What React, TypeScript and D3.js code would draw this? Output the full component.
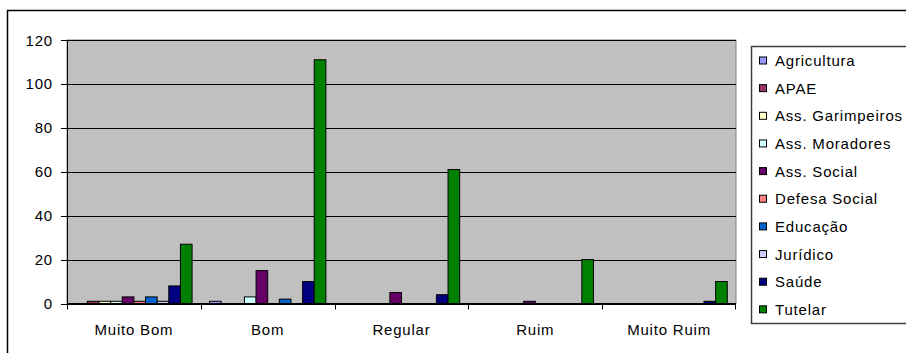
import React from "react";
import * as d3 from "d3";

const categories = ["Muito Bom", "Bom", "Regular", "Ruim", "Muito Ruim"];
const seriesNames = [
  "Agricultura",
  "APAE",
  "Ass. Garimpeiros",
  "Ass. Moradores",
  "Ass. Social",
  "Defesa Social",
  "Educação",
  "Jurídico",
  "Saúde",
  "Tutelar",
];
const agricultura = [0, 1, 0, 0, 0];
const apae = [1, 0, 0, 0, 0];
const assGarimpeiros = [1, 0, 0, 0, 0];
const assMoradores = [1, 3, 0, 0, 0];
const assSocial = [3, 15, 5, 1, 0];
const defesaSocial = [1, 0, 0, 0, 0];
const educacao = [3, 2, 0, 0, 0];
const juridico = [1, 0, 0, 0, 0];
const saude = [8, 10, 4, 0, 1];
const tutelar = [27, 111, 61, 20, 10];
const seriesValues = [
  agricultura,
  apae,
  assGarimpeiros,
  assMoradores,
  assSocial,
  defesaSocial,
  educacao,
  juridico,
  saude,
  tutelar,
];
const colors = [
  "#9999FF",
  "#993366",
  "#FFFFCC",
  "#CCFFFF",
  "#660066",
  "#FF8080",
  "#0066CC",
  "#CCCCFF",
  "#000080",
  "#008000",
];
const yTicks = [0, 20, 40, 60, 80, 100, 120];

const W = 906;
const H = 353;
const plot = { left: 67, right: 736, top: 40, bottom: 303.5 };
const font = "Arial, 'Liberation Sans', sans-serif";

export default function App() {
  const x0 = d3
    .scaleBand<string>()
    .domain(categories)
    .range([plot.left, plot.right])
    .paddingInner(0)
    .paddingOuter(0);
  const bw = x0.bandwidth();
  const x1 = d3
    .scaleBand<string>()
    .domain(seriesNames)
    .range([0, bw])
    .paddingInner(0)
    .paddingOuter(0.75);
  const y = d3.scaleLinear().domain([0, 120]).range([plot.bottom, plot.top]);

  return (
    <svg
      width={W}
      height={H}
      style={{ position: "absolute", left: 0, top: 0, display: "block" }}
      fontFamily={font}
    >
      <rect x={0} y={0} width={W} height={H} fill="#fff" />
      {/* outer chart border */}
      <rect x={7.5} y={10.5} width={W + 20} height={H + 20} fill="none" stroke="#000" strokeWidth={1.5} />

      {/* plot area */}
      <rect
        x={plot.left}
        y={plot.top}
        width={plot.right - plot.left}
        height={plot.bottom - plot.top}
        fill="#C0C0C0"
        stroke="#808080"
        strokeWidth={1}
      />
      {yTicks.map((t) => (
        <line
          key={"g" + t}
          x1={plot.left}
          x2={plot.right}
          y1={Math.round(y(t)) + 0.5}
          y2={Math.round(y(t)) + 0.5}
          stroke="#000"
          strokeWidth={1}
          shapeRendering="crispEdges"
        />
      ))}

      {/* bars */}
      {categories.map((c, ci) => (
        <g key={c} transform={`translate(${x0(c)},0)`}>
          {seriesNames.map((s, si) => {
            const v = seriesValues[si][ci];
            if (!v) return null;
            return (
              <rect
                key={s}
                x={x1(s)}
                y={y(v)}
                width={x1.bandwidth()}
                height={plot.bottom - y(v)}
                fill={colors[si]}
                stroke="#000"
                strokeWidth={1}
              />
            );
          })}
        </g>
      ))}

      {/* axes */}
      <line x1={plot.left + 0.5} x2={plot.left + 0.5} y1={plot.top} y2={plot.bottom} stroke="#000" />
      {yTicks.map((t) => (
        <g key={"t" + t}>
          <line
            x1={plot.left - 6}
            x2={plot.left}
            y1={Math.round(y(t)) + 0.5}
            y2={Math.round(y(t)) + 0.5}
            stroke="#000"
          />
          <text
            x={53}
            y={y(t)}
            textAnchor="end"
            dominantBaseline="central"
            fontSize={15}
            letterSpacing={0.8}
            fill="#000"
          >
            {t}
          </text>
        </g>
      ))}
      <line x1={plot.left} x2={plot.right} y1={plot.bottom} y2={plot.bottom} stroke="#000" />
      {categories.map((c, ci) => (
        <line
          key={"ct" + c}
          x1={Math.round(x0(c)!) + 0.5}
          x2={Math.round(x0(c)!) + 0.5}
          y1={plot.bottom}
          y2={plot.bottom + 6}
          stroke="#000"
        />
      ))}
      <line
        x1={plot.right - 0.5}
        x2={plot.right - 0.5}
        y1={plot.bottom}
        y2={plot.bottom + 6}
        stroke="#000"
      />
      {categories.map((c) => (
        <text
          key={"cl" + c}
          x={x0(c)! + bw / 2}
          y={335}
          textAnchor="middle"
          fontSize={15}
          letterSpacing={0.8}
          fill="#000"
        >
          {c}
        </text>
      ))}

      {/* legend */}
      <rect x={751.5} y={46.5} width={180} height={277} fill="#fff" stroke="#404040" strokeWidth={1.5} />
      {seriesNames.map((s, i) => {
        const cy = 60.5 + i * 27.65;
        return (
          <g key={"l" + s}>
            <rect x={759.5} y={cy - 3.5} width={7} height={7} fill={colors[i]} stroke="#000" strokeWidth={1} />
            <text
              x={775}
              y={cy}
              dominantBaseline="central"
              fontSize={15}
              letterSpacing={0.8}
              fill="#000"
            >
              {s}
            </text>
          </g>
        );
      })}
    </svg>
  );
}
